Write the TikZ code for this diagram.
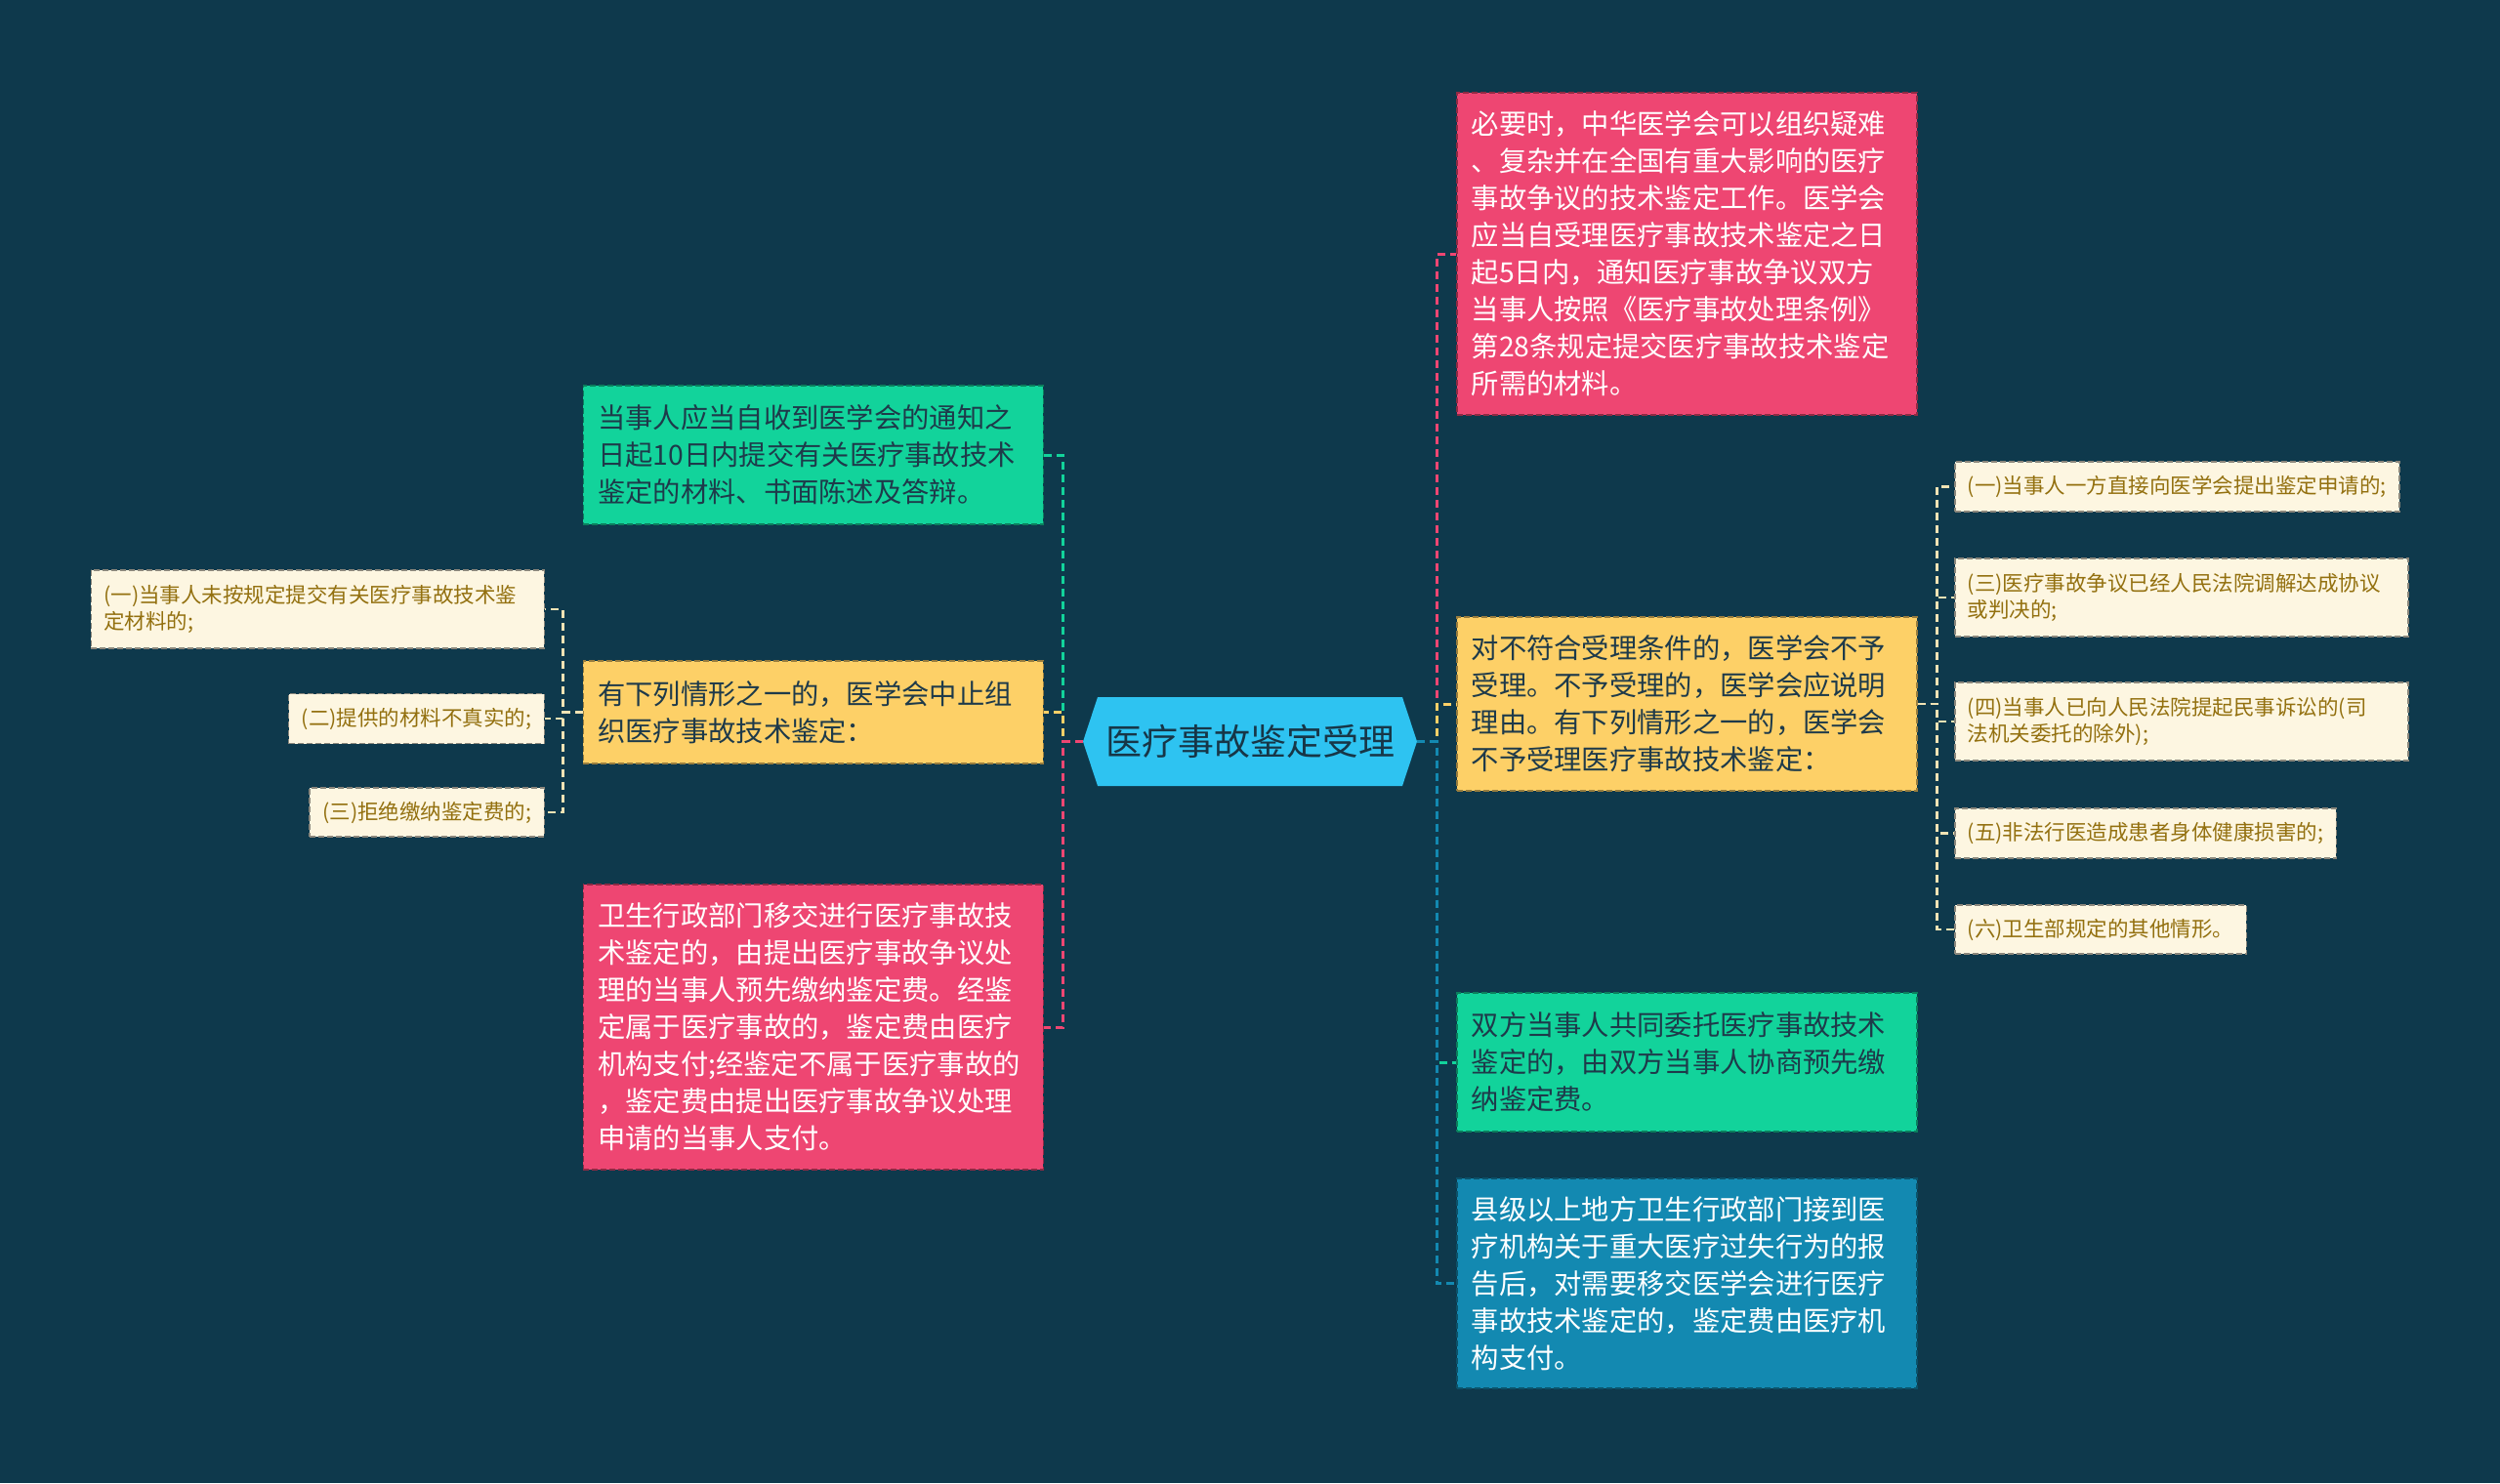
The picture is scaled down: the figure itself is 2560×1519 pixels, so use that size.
\documentclass[tikz,border=0pt]{standalone}
\usepackage{fontspec}
\setmainfont{Noto Sans CJK SC}
\usetikzlibrary{calc}
\definecolor{bgc}{HTML}{0E394C}
\definecolor{hexc}{HTML}{2EC3F1}
\definecolor{hextext}{HTML}{173647}
\definecolor{greenc}{HTML}{12D39B}
\definecolor{yellowc}{HTML}{FDD067}
\definecolor{pinkc}{HTML}{EE4672}
\definecolor{bluec}{HTML}{1389B1}
\definecolor{creamc}{HTML}{FDF6E1}
\definecolor{creamtext}{HTML}{93700F}
\definecolor{darktext}{HTML}{1E3A4A}
\definecolor{smallline}{HTML}{F1E3B4}
\begin{document}
\begin{tikzpicture}[x=1pt,y=-1pt,
  bigbox/.style={rectangle, anchor=center, inner xsep=15pt, inner ysep=0pt, text width=441pt, align=left,
    font=\fontsize{28.3}{38}\selectfont, line width=1.5pt, dash pattern=on 6pt off 3pt},
  smallbox/.style={rectangle, inner xsep=13pt, inner ysep=0pt, align=left,
    font=\fontsize{21.5}{27}\selectfont, fill=creamc, draw=creamc!55!black, text=creamtext,
    line width=1.5pt, dash pattern=on 6pt off 3pt},
  smallwide/.style={smallbox, text width=438pt, minimum height=80pt},
  smallone/.style={smallbox, minimum height=51pt},
  gbox/.style={bigbox, fill=greenc, draw=greenc!60!black, text=darktext},
  ybox/.style={bigbox, fill=yellowc, draw=yellowc!60!black, text=darktext},
  pbox/.style={bigbox, fill=pinkc, draw=pinkc!60!black, text=white},
  bbox/.style={bigbox, fill=bluec, draw=bluec!60!black, text=white},
  conn/.style={line width=3pt, dash pattern=on 8pt off 5pt},
  sconn/.style={line width=2.5pt, dash pattern=on 8pt off 5pt, draw=smallline},
  rootnode/.style={rectangle, minimum width=342pt, minimum height=91pt, inner sep=0pt,
    font=\fontsize{37}{44}\selectfont, text=hextext}
]
\useasboundingbox (0,0) rectangle (2560,1519);
\fill[bgc] (0,0) rectangle (2560,1519);

% root hexagon
\fill[hexc] (1109,759.5) -- (1124,714) -- (1436,714) -- (1451,759.5) -- (1436,805) -- (1124,805) -- cycle;
\node[rootnode] (root) at (1280,759.5) {医疗事故鉴定受理};

% left main children
\node[gbox, anchor=east, minimum height=142pt] (L1) at (1069,466)
  {当事人应当自收到医学会的通知之\\日起10日内提交有关医疗事故技术\\鉴定的材料、书面陈述及答辩。};
\node[ybox, anchor=east, minimum height=105pt] (L2) at (1069,729.5)
  {有下列情形之一的，医学会中止组\\织医疗事故技术鉴定：};
\node[pbox, anchor=east, minimum height=292pt] (L3) at (1069,1052)
  {卫生行政部门移交进行医疗事故技\\术鉴定的，由提出医疗事故争议处\\理的当事人预先缴纳鉴定费。经鉴\\定属于医疗事故的，鉴定费由医疗\\机构支付;经鉴定不属于医疗事故的\\，鉴定费由提出医疗事故争议处理\\申请的当事人支付。};

% right main children
\node[pbox, anchor=west, minimum height=330pt] (R1) at (1491,260)
  {必要时，中华医学会可以组织疑难\\、复杂并在全国有重大影响的医疗\\事故争议的技术鉴定工作。医学会\\应当自受理医疗事故技术鉴定之日\\起5日内，通知医疗事故争议双方\\当事人按照《医疗事故处理条例》\\第28条规定提交医疗事故技术鉴定\\所需的材料。};
\node[ybox, anchor=west, minimum height=178pt] (R2) at (1491,721)
  {对不符合受理条件的，医学会不予\\受理。不予受理的，医学会应说明\\理由。有下列情形之一的，医学会\\不予受理医疗事故技术鉴定：};
\node[gbox, anchor=west, minimum height=142pt] (R3) at (1491,1088)
  {双方当事人共同委托医疗事故技术\\鉴定的，由双方当事人协商预先缴\\纳鉴定费。};
\node[bbox, anchor=west, minimum height=215pt] (R4) at (1491,1314.5)
  {县级以上地方卫生行政部门接到医\\疗机构关于重大医疗过失行为的报\\告后，对需要移交医学会进行医疗\\事故技术鉴定的，鉴定费由医疗机\\构支付。};

% left small children
\node[smallwide, anchor=east] (S1) at (558,624)
  {(一)当事人未按规定提交有关医疗事故技术鉴\\定材料的;};
\node[smallone, anchor=east] (S2) at (558,736) {(二)提供的材料不真实的;};
\node[smallone, anchor=east, minimum height=50pt] (S3) at (558,832) {(三)拒绝缴纳鉴定费的;};

% right small children
\node[smallone, anchor=west] (T1) at (2001,498.5) {(一)当事人一方直接向医学会提出鉴定申请的;};
\node[smallwide, anchor=west] (T2) at (2001,612)
  {(三)医疗事故争议已经人民法院调解达成协议\\或判决的;};
\node[smallwide, anchor=west] (T3) at (2001,739)
  {(四)当事人已向人民法院提起民事诉讼的(司\\法机关委托的除外);};
\node[smallone, anchor=west] (T4) at (2001,853.5) {(五)非法行医造成患者身体健康损害的;};
\node[smallone, anchor=west, minimum height=50pt] (T5) at (2001,952) {(六)卫生部规定的其他情形。};

% main connectors, left
\draw[conn, greenc] (root.west) -- ++(-20,0) |- (L1.east);
\draw[conn, yellowc] (root.west) -- ++(-20,0) |- (L2.east);
\draw[conn, pinkc] (root.west) -- ++(-20,0) |- (L3.east);
% main connectors, right
\draw[conn, pinkc] (root.east) -- ++(20,0) |- (R1.west);
\draw[conn, yellowc] (root.east) -- ++(20,0) |- (R2.west);
\draw[conn, greenc] (root.east) -- ++(20,0) |- (R3.west);
\draw[conn, bluec] (root.east) -- ++(20,0) |- (R4.west);

% small connectors
\draw[sconn] (L2.west) -- ++(-20,0) |- (S1.east);
\draw[sconn] (L2.west) -- ++(-20,0) |- (S2.east);
\draw[sconn] (L2.west) -- ++(-20,0) |- (S3.east);
\draw[sconn] (R2.east) -- ++(20,0) |- (T1.west);
\draw[sconn] (R2.east) -- ++(20,0) |- (T2.west);
\draw[sconn] (R2.east) -- ++(20,0) |- (T3.west);
\draw[sconn] (R2.east) -- ++(20,0) |- (T4.west);
\draw[sconn] (R2.east) -- ++(20,0) |- (T5.west);
\end{tikzpicture}
\end{document}
